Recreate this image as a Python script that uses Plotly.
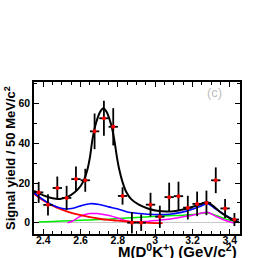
import plotly.graph_objects as go

# ---- data ----
mass = [2.375, 2.425, 2.475, 2.525, 2.575, 2.625, 2.675, 2.725, 2.775, 2.825, 2.875,
        2.925, 2.975, 3.025, 3.075, 3.125, 3.175, 3.225, 3.275, 3.325, 3.375, 3.425]
yields = [15.3, 9.0, 17.5, 12.5, 22.0, 21.4, 46.1, 52.7, 48.4, 13.5, 0.0,
          0.0, 9.1, 3.0, 12.9, 13.4, 7.6, 9.5, 10.0, 21.4, 7.2, 1.6]
errors = [5.3, 5.4, 5.8, 6.1, 6.3, 5.8, 9.0, 8.8, 9.4, 4.4, 5.4,
          4.2, 6.0, 5.6, 7.3, 7.3, 6.0, 6.2, 6.2, 6.5, 4.8, 3.3]
bin_half = [0.025] * len(mass)

total_x = [2.35, 2.40, 2.45, 2.49, 2.53, 2.57, 2.60, 2.62, 2.637, 2.65, 2.662, 2.675, 2.69,
           2.705, 2.722, 2.739, 2.754, 2.769, 2.782, 2.795, 2.807, 2.825, 2.845, 2.87, 2.91,
           2.96, 3.01, 3.06, 3.11, 3.16, 3.21, 3.25, 3.28, 3.31, 3.35, 3.39, 3.425, 3.45]
total_y = [16.0, 13.8, 12.3, 12.0, 13.0, 15.5, 18.5, 22.0, 27.0, 33.0, 41.0, 47.5, 52.5,
           56.0, 57.8, 56.0, 52.5, 47.5, 41.0, 33.0, 27.0, 20.5, 15.5, 12.0, 9.2,
           7.2, 6.0, 5.6, 5.9, 6.9, 8.3, 9.6, 10.5, 8.5, 5.3, 2.8, 1.0, 0.2]

blue_x = [2.35, 2.40, 2.45, 2.51, 2.56, 2.60, 2.65, 2.70, 2.75, 2.80, 2.85, 2.90, 2.96,
          3.02, 3.08, 3.14, 3.20, 3.24, 3.28, 3.32, 3.36, 3.40, 3.44]
blue_y = [15.0, 11.6, 8.8, 7.0, 7.3, 8.5, 9.6, 9.2, 8.0, 6.9, 5.4, 4.8, 4.3,
          4.1, 4.3, 5.2, 6.8, 8.2, 9.6, 7.3, 4.8, 2.5, 0.7]

red_x = [2.35, 2.40, 2.45, 2.50, 2.55, 2.60, 2.65, 2.70, 2.75, 2.80, 2.85, 2.90, 2.95, 3.00, 3.04]
red_y = [14.5, 11.2, 8.6, 6.6, 5.0, 3.8, 2.8, 2.0, 1.4, 1.0, 0.6, 0.3, 0.0, -0.2, -0.2]

green_x = [2.375, 2.45, 2.55, 2.65, 2.75, 2.85, 2.95, 3.05, 3.15, 3.22, 3.28, 3.33, 3.38, 3.43]
green_y = [0.3, 0.6, 1.0, 1.4, 1.8, 2.4, 2.9, 3.5, 3.8, 4.3, 5.0, 3.5, 1.8, 0.5]

mag_x = [2.53, 2.56, 2.59, 2.62, 2.65, 2.69, 2.73, 2.77, 2.81, 2.85, 2.89, 2.95, 3.02,
         3.09, 3.15, 3.20, 3.24, 3.28, 3.33, 3.38, 3.43]
mag_y = [0.0, 1.0, 2.8, 4.0, 4.6, 4.6, 4.0, 3.2, 2.0, 0.9, 0.4, 0.6, 1.3,
         2.0, 3.0, 3.8, 4.6, 5.3, 3.0, 1.0, -0.3]

FONT = "Liberation Sans, Arial, Helvetica, sans-serif"

fig = go.Figure()

def curve(x, y, color, width):
    fig.add_trace(go.Scatter(x=x, y=y, mode="lines",
                             line=dict(color=color, width=width, shape="spline", smoothing=0.8),
                             hoverinfo="skip", showlegend=False))

curve(green_x, green_y, "#00ee00", 1.5)
curve(mag_x, mag_y, "#ff00ff", 1.5)
curve(red_x, red_y, "#ff0000", 1.8)
curve(blue_x, blue_y, "#0000ff", 1.6)
curve(total_x, total_y, "#000000", 2.0)

fig.add_trace(go.Scatter(
    x=mass, y=yields, mode="markers",
    marker=dict(color="#ff0000", size=4, symbol="circle"),
    error_y=dict(type="data", array=errors, color="black", thickness=1.8, width=0),
    error_x=dict(type="data", array=bin_half, color="black", thickness=1.8, width=0),
    showlegend=False))

axis_common = dict(showline=True, linecolor="black", linewidth=1.5, mirror="ticks",
                   ticks="inside", ticklen=5, tickcolor="black", tickwidth=1,
                   showgrid=False, automargin=False,
                   tickfont=dict(family=FONT, size=10.5, color="black", weight="bold"))

fig.update_xaxes(range=[2.35, 3.455], tick0=2.4, dtick=0.2, zeroline=False,
                 minor=dict(ticks="inside", ticklen=3, dtick=0.05, tick0=2.4, tickcolor="black"),
                 ticklabelstandoff=-4, **axis_common)
fig.update_yaxes(range=[-5.7, 71.0], tick0=0, dtick=20,
                 zeroline=True, zerolinecolor="#c8c8c8", zerolinewidth=1,
                 minor=dict(ticks="inside", ticklen=3, dtick=10, tickcolor="black"),
                 ticklabelstandoff=0, **axis_common)

fig.update_layout(
    width=273, height=258,
    margin=dict(l=34, r=33, t=82, b=24, autoexpand=False),
    paper_bgcolor="white", plot_bgcolor="white",
    showlegend=False,
    annotations=[
        dict(text="M(D<sup>0</sup>K<sup>+</sup>) (GeV/c<sup>2</sup>)", xref="paper", yref="paper",
             x=1.0, y=0, xanchor="right", yanchor="bottom", yshift=-27.5, xshift=-1,
             showarrow=False,
             font=dict(family=FONT, size=15, color="black", weight="bold")),
        dict(text="Signal yield / 50 MeV/c<sup>2</sup>", xref="paper", yref="paper",
             x=0, y=0.5, xanchor="center", yanchor="middle", xshift=-24, textangle=-90,
             showarrow=False,
             font=dict(family=FONT, size=13, color="black", weight="bold")),
        dict(text="(c)", xref="paper", yref="paper", x=0.874, y=0.929,
             xanchor="center", yanchor="middle", showarrow=False,
             font=dict(family=FONT, size=13, color="#c0c0c0")),
    ],
)

fig.write_html("out.html", config={"displayModeBar": False},
               post_script="document.body.style.margin='0px';")
